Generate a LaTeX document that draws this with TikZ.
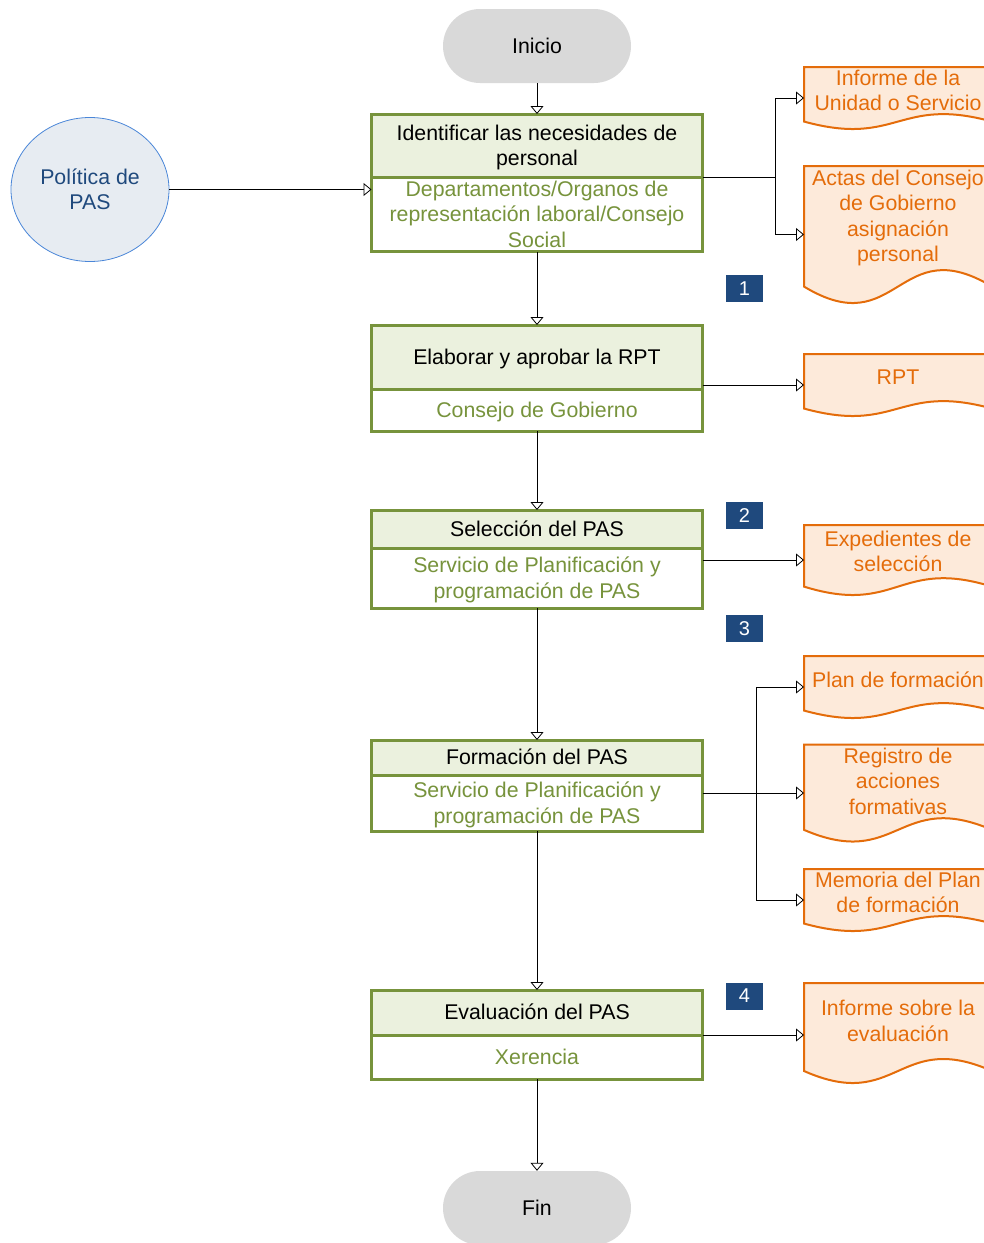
\documentclass[tikz,border=0pt]{standalone}
\usepackage{fontspec}
\setmainfont{Liberation Sans}
\usetikzlibrary{arrows.meta,shapes.geometric,calc}

\definecolor{boxgreen}{HTML}{77933C}
\definecolor{hdrfill}{HTML}{EBF1DE}
\definecolor{docorange}{HTML}{E46C0A}
\definecolor{docfill}{HTML}{FDEADA}
\definecolor{termgray}{HTML}{D9D9D9}
\definecolor{polfill}{HTML}{E7ECF2}
\definecolor{poledge}{HTML}{4A86D8}
\definecolor{navy}{HTML}{1F497D}

\newcommand\txtfont{\fontsize{21.3}{25.5}\selectfont}

% document symbol: name, top edge, full height (down to the wave trough), text
\newcommand\docsymbol[4]{%
  \node[docbody, minimum height=#3pt, anchor=north west] (#1) at (804,#2) {};
  \draw[docedge] (#1.north west) -- (#1.north east)
    -- ($(#1.south east)+(0,-0.12*#3)$)
    .. controls ($(#1.south)+(0,-0.536*#3)$) and ($(#1.south)+(0,0.296*#3)$)
    .. ($(#1.south west)+(0,-0.12*#3)$) -- cycle;
  \node[doctext] (#1t) at ($(#1.center)+(0,-0.12*#3)$) {#4};
}

\tikzset{
  % full line boxes (ascent of first line, descent of last line)
  oneline/.style={text height=19.3pt, text depth=4.5pt},
  twolines/.style={text height=44.8pt, text depth=4.5pt},
  threelines/.style={text height=70.3pt, text depth=4.5pt},
  terminal/.style={rectangle, rounded corners=37pt, fill=termgray, draw=none,
    minimum width=188pt, minimum height=74pt, inner sep=0pt, font=\txtfont},
  hdr/.style={rectangle, draw=boxgreen, line width=3pt, fill=hdrfill, text=black,
    minimum width=331pt, inner sep=0pt, outer sep=0pt, align=center, font=\txtfont},
  sub/.style={hdr, fill=white, text=boxgreen},
  docbody/.style={rectangle, draw=none, minimum width=188pt, inner sep=0pt, outer sep=0pt},
  docedge/.style={draw=docorange, line width=2pt, fill=docfill},
  doctext/.style={text=docorange, align=center, inner sep=0pt, font=\txtfont},
  policy/.style={ellipse, draw=poledge, line width=0.8pt, fill=polfill, text=navy,
    minimum width=158pt, minimum height=144pt, inner sep=0pt, align=center, font=\txtfont},
  badge/.style={rectangle, fill=navy, text=white, minimum width=37pt, minimum height=27pt,
    inner sep=0pt, font=\fontsize{20}{24}\selectfont},
  flow/.style={draw=black, line width=0.8pt, -{Triangle[width=13pt,length=8pt,fill=white]}},
  link/.style={draw=black, line width=0.8pt}
}

\begin{document}
\begin{tikzpicture}[x=1pt, y=-1pt]
\useasboundingbox (0,0) rectangle (984,1243);

% start / end
\node[terminal] (ini) at (537,46) {Inicio};
\node[terminal] (fin) at (537,1208) {Fin};

% policy input
\node[policy] (pol) at (90,189.5) {Política de\\PAS};

% process steps: header + responsible unit
\node[hdr, twolines, minimum height=63pt, anchor=north] (b1h) at (537,114) {Identificar las necesidades de\\personal};
\node[sub, threelines, minimum height=74pt, anchor=north] (b1s) at (b1h.south) {Departamentos/Organos de\\representación laboral/Consejo\\Social};

\node[hdr, oneline, minimum height=64pt, anchor=north] (b2h) at (537,325) {Elaborar y aprobar la RPT};
\node[sub, oneline, minimum height=42pt, anchor=north] (b2s) at (b2h.south) {Consejo de Gobierno};

\node[hdr, oneline, minimum height=38pt, anchor=north] (b3h) at (537,510) {Selección del PAS};
\node[sub, twolines, minimum height=60pt, anchor=north] (b3s) at (b3h.south) {Servicio de Planificación y\\programación de PAS};

\node[hdr, oneline, minimum height=35pt, anchor=north] (b4h) at (537,740) {Formación del PAS};
\node[sub, twolines, minimum height=56pt, anchor=north] (b4s) at (b4h.south) {Servicio de Planificación y\\programación de PAS};

\node[hdr, oneline, minimum height=45pt, anchor=north] (b5h) at (537,990) {Evaluación del PAS};
\node[sub, oneline, minimum height=44pt, anchor=north] (b5s) at (b5h.south) {Xerencia};

% output documents
\docsymbol{inf}{67}{62}{Informe de la\\Unidad o Servicio}
\docsymbol{act}{166}{137}{Actas del Consejo\\de Gobierno\\asignación\\personal}
\docsymbol{rpt}{354}{62}{RPT}
\docsymbol{exp}{525}{70}{Expedientes de\\selección}
\docsymbol{plan}{656}{62}{Plan de formación}
\docsymbol{reg}{744.5}{97}{Registro de\\acciones\\formativas}
\docsymbol{mem}{869}{62}{Memoria del Plan\\de formación}
\docsymbol{eva}{983}{100}{Informe sobre la\\evaluación}

% phase numbers
\node[badge] (n1) at (744.5,288.5) {1};
\node[badge] (n2) at (744.5,515.5) {2};
\node[badge] (n3) at (744.5,628.5) {3};
\node[badge] (n4) at (744.5,996) {4};

% main sequence
\draw[flow] (ini.south) -- (b1h.north);
\draw[flow] (b1s.south) -- (b2h.north);
\draw[flow] (b2s.south) -- (b3h.north);
\draw[flow] (b3s.south) -- (b4h.north);
\draw[flow] (b4s.south) -- (b5h.north);
\draw[flow] (b5s.south) -- (fin.north);

% policy feeds the first step
\draw[flow] (pol.east) -- (pol.east -| b1s.west);

% outputs of each step
\coordinate (j1) at ($(b1h.south east)+(73,0)$);
\draw[link] (b1h.south east) -- (j1);
\draw[flow] (j1) |- (inf.west);
\draw[flow] (j1) |- (act.west);

\draw[flow] (b2h.east |- rpt.west) -- (rpt.west);
\draw[flow] (b3s.east |- exp.west) -- (exp.west);

\coordinate (j4) at (756,793);
\draw[flow] (b4s.east |- reg.west) -- (reg.west);
\draw[flow] (j4) |- (plan.west);
\draw[flow] (j4) |- (mem.west);

\draw[flow] (b5h.south east) -- (b5h.south east -| eva.west);
\end{tikzpicture}
\end{document}
